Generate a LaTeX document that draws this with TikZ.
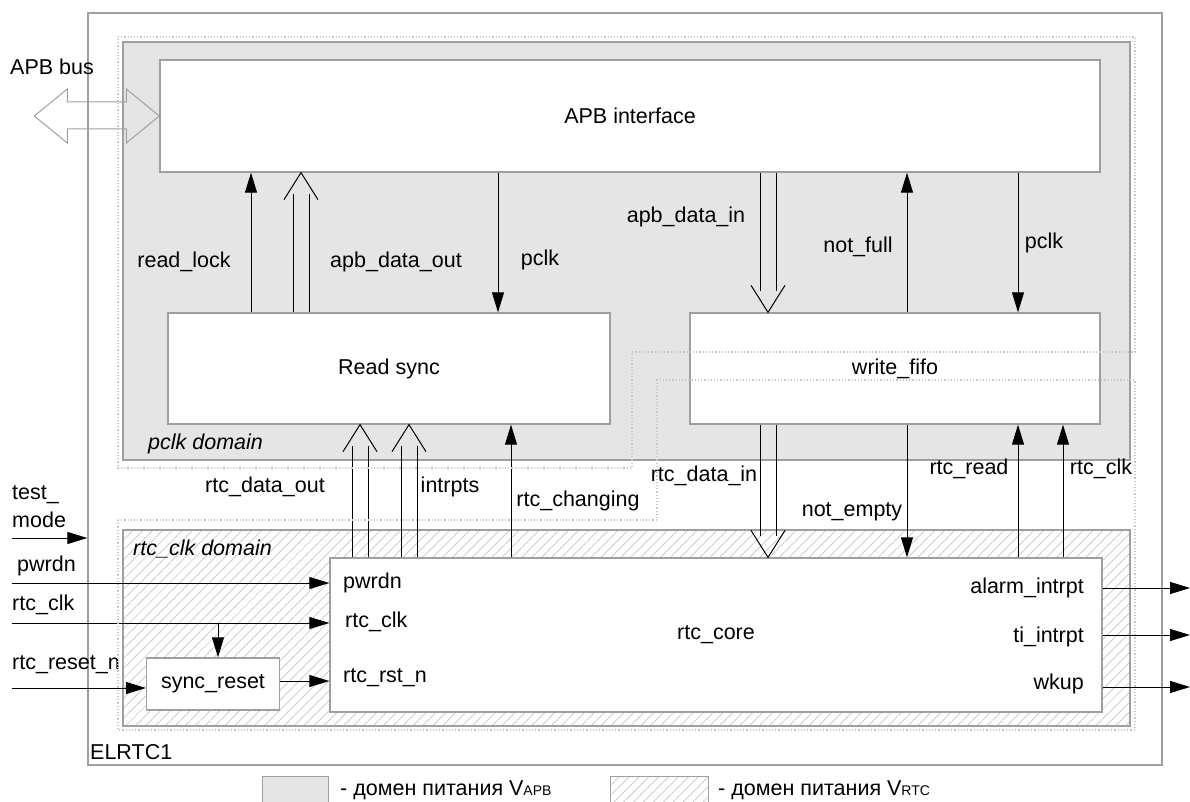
\documentclass[tikz,border=0pt]{standalone}
\usepackage{fontspec}
\setmainfont{Liberation Sans}
\usepackage{tikz}
\usetikzlibrary{calc,arrows.meta,patterns.meta}

\tikzset{
  frame/.style={draw=gray!75, line width=1.3pt},
  blk/.style={draw=gray!75, line width=1.3pt, fill=white, inner sep=0pt},
  lbl/.style={inner sep=0pt},
  sig/.style={line width=1pt, -{Triangle[length=20pt,width=12pt]}},
  busline/.style={line width=1pt},
  bound/.style={draw=gray!45, dotted, line width=1.2pt},
  hatch/.style={pattern={Lines[angle=45,distance=7pt,line width=0.7pt]}, pattern color=gray!45},
}

\newcommand{\busarrow}[3]{%
  \path (#2 -| #1,0) coordinate (bus-a) (#3 -| #1,0) coordinate (bus-b);
  \draw[busline] ($(bus-a)+(-8,0)$) -- ($(bus-b)!21pt!(bus-a)+(-8,0)$)
                 ($(bus-a)+(8,0)$) -- ($(bus-b)!21pt!(bus-a)+(8,0)$);
  \draw[busline] ($(bus-b)!27pt!(bus-a)+(-17,0)$) -- (bus-b) -- ($(bus-b)!27pt!(bus-a)+(17,0)$);
}

\begin{document}
\begin{tikzpicture}[x=1pt,y=-1pt,font=\fontsize{21.5}{26}\selectfont]
  \useasboundingbox (0,0) rectangle (1190,802);
  \clip (0,0) rectangle (1190,802);

  \node[frame, minimum width=1074pt, minimum height=752pt] (chip) at (625,389) {};
  \node[lbl, anchor=west] (tChip) at (90,752) {ELRTC1};
  \draw[frame, fill=gray!20] (123,42) rectangle (1130,460);
  \draw[frame, hatch] (123,530) rectangle (1130,726);
  \node[lbl, anchor=west] (tPclkDom) at (148,444) {\itshape pclk domain};
  \node[lbl, anchor=west] (tRtcDom) at (133,549) {\itshape rtc\_clk domain};

  \node[blk, minimum width=940pt, minimum height=112pt] (apb) at (630,116) {APB interface};
  \node[blk, minimum width=442pt, minimum height=111pt] (rsync) at (389,368.5) {Read sync};
  \node[blk, minimum width=410pt, minimum height=111pt] (wfifo) at (895,368.5) {write\_fifo};
  \node[blk, minimum width=772pt, minimum height=154pt] (core) at (716,635) {rtc\_core};
  \node[blk, minimum width=133pt, minimum height=52pt] (sreset) at (213,684) {sync\_reset};

  \draw[frame, line width=1pt] (apb.west) -- ++(-33,-27) -- ++(0,13) -- ++(-59,0) -- ++(0,-13)
    -- ++(-33,27) -- ++(33,27) -- ++(0,-14) -- ++(59,0) -- ++(0,14) -- cycle;
  \node[lbl, anchor=west] (tBus) at (10,67) {APB bus};

  \draw[sig] (rsync.north -| 251,0) -- (apb.south -| 251,0);
  \busarrow{301}{rsync.north}{apb.south}
  \draw[sig] (apb.south -| 498,0) -- (rsync.north -| 498,0);
  \busarrow{768}{apb.south}{wfifo.north}
  \draw[sig] (wfifo.north -| 907,0) -- (apb.south -| 907,0);
  \draw[sig] (apb.south -| 1018,0) -- (wfifo.north -| 1018,0);
  \node[lbl] (tReadLock) at (184,262) {read\_lock};
  \node[lbl] (tApbOut) at (396,262) {apb\_data\_out};
  \node[lbl] (tPclkA) at (540,260) {pclk};
  \node[lbl] (tApbIn) at (686,217) {apb\_data\_in};
  \node[lbl] (tNotFull) at (858,247) {not\_full};
  \node[lbl] (tPclkB) at (1044,243) {pclk};

  \busarrow{360}{core.north}{rsync.south}
  \busarrow{409}{core.north}{rsync.south}
  \draw[sig] (core.north -| 511,0) -- (rsync.south -| 511,0);
  \busarrow{768}{wfifo.south}{core.north}
  \draw[sig] (wfifo.south -| 907,0) -- (core.north -| 907,0);
  \draw[sig] (core.north -| 1018,0) -- (wfifo.south -| 1018,0);
  \draw[sig] (core.north -| 1063,0) -- (wfifo.south -| 1063,0);
  \node[lbl] (tRtcOut) at (265,487) {rtc\_data\_out};
  \node[lbl] (tIntr) at (450,487) {intrpts};
  \node[lbl] (tChanging) at (578,501) {rtc\_changing};
  \node[lbl] (tRtcIn) at (704,476) {rtc\_data\_in};
  \node[lbl] (tNotEmpty) at (852,512) {not\_empty};
  \node[lbl] (tRtcRead) at (969,469) {rtc\_read};
  \node[lbl] (tRtcClkB) at (1101,469) {rtc\_clk};

  \coordinate (inTest) at (12,538);
  \coordinate (inPwr) at (12,583);
  \coordinate (inClk) at (12,623);
  \coordinate (brClk) at (218,623);
  \coordinate (inRst) at (12,688);
  \draw[sig] (inTest) -- (chip.west |- inTest);
  \draw[sig] (inPwr) -- (core.west |- inPwr);
  \draw[sig] (inClk) -- (core.west |- inClk);
  \draw[sig] (brClk) -- (sreset.north -| brClk);
  \draw[sig] (inRst) -- (sreset.west |- inRst);
  \draw[sig] (sreset.east |- 0,681) -- (core.west |- 0,681);
  \node[lbl, anchor=west] (tTest) at (12,495) {test\_};
  \node[lbl, anchor=west] (tMode) at (12,520) {mode};
  \node[lbl, anchor=west] (tPwr) at (17,566) {pwrdn};
  \node[lbl, anchor=west] (tClk) at (12,605) {rtc\_clk};
  \node[lbl, anchor=west] (tRst) at (12,665) {rtc\_reset\_n};
  \node[lbl, anchor=west] (pPwr) at (343,583) {pwrdn};
  \node[lbl, anchor=west] (pClk) at (345,622) {rtc\_clk};
  \node[lbl, anchor=west] (pRst) at (343,678) {rtc\_rst\_n};

  \coordinate (outAlarm) at (1190,588);
  \coordinate (outTi) at (1190,635);
  \coordinate (outWkup) at (1190,687);
  \draw[sig] (core.east |- outAlarm) -- (outAlarm);
  \draw[sig] (core.east |- outTi) -- (outTi);
  \draw[sig] (core.east |- outWkup) -- (outWkup);
  \node[lbl, anchor=east] (pAlarm) at (1084,588) {alarm\_intrpt};
  \node[lbl, anchor=east] (pTi) at (1084,637) {ti\_intrpt};
  \node[lbl, anchor=east] (pWkup) at (1084,684) {wkup};

  \draw[bound] (118,37) -- (1135,37) -- (1135,352) -- (632,352) -- (632,468) -- (118,468) -- cycle;
  \draw[bound] (118,520) -- (657,520) -- (657,380) -- (1135,380) -- (1135,730) -- (118,730) -- cycle;

  \node[frame, fill=gray!20, minimum width=66pt, minimum height=40pt, anchor=north west] (legApb) at (262,776) {};
  \node[lbl, anchor=west] (tLegApb) at (340,790) {- домен питания V{\fontsize{14}{16}\selectfont APB}};
  \node[frame, hatch, minimum width=98pt, minimum height=40pt, anchor=north west] (legRtc) at (610,776) {};
  \node[lbl, anchor=west] (tLegRtc) at (718,790) {- домен питания V{\fontsize{14}{16}\selectfont RTC}};
\end{tikzpicture}
\end{document}
